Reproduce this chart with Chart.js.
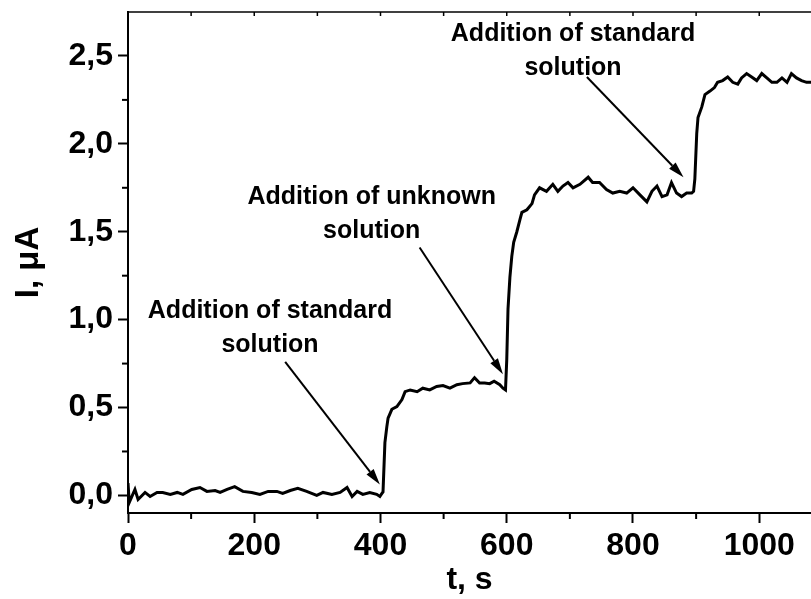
<!DOCTYPE html>
<html>
<head>
<meta charset="utf-8">
<script src="https://cdn.jsdelivr.net/npm/chart.js@4"></script>
<style>
  html, body { margin: 0; padding: 0; background: #fff; }
  #wrap { width: 811px; height: 599px; }
</style>
</head>
<body>
<div id="wrap"><canvas id="amp-chart"></canvas></div>
<script>
"use strict"

// time, s
const timeValues = [
    0, 2, 11, 16, 27, 35, 46, 55, 67, 78, 87, 101, 114, 125, 138, 146, 157, 169, 182, 196,
    209, 222, 236, 245, 257, 269, 283, 299, 309, 323, 336, 347, 355, 363, 372, 383, 394, 399,
    402, 404, 407, 410, 412, 418, 426, 434, 439, 447, 458, 467, 478, 489, 499, 510, 521, 530,
    542, 549, 557, 565, 573, 580, 589, 594, 598,
    600, 602, 605, 608, 611, 616, 621, 624, 632, 640, 644, 652, 663, 673, 681, 689, 697, 705,
    716, 729, 736, 747, 758, 768, 779, 790, 800, 811, 822, 830, 838, 846, 854, 861, 869, 877,
    885, 893, 896,
    898, 901, 903, 909, 914, 922, 929, 934, 942, 950, 958, 966, 972, 980, 988, 996, 1004, 1012,
    1020, 1028, 1036, 1044, 1051, 1059, 1067, 1075, 1083
];

// current, uA
const currentValues = [
    0.07, -0.04, 0.034, -0.023, 0.017, -0.006, 0.017, 0.017, 0.006, 0.017, 0.006, 0.034, 0.045, 0.023, 0.028, 0.017, 0.034, 0.05, 0.023, 0.017,
    0.006, 0.023, 0.023, 0.011, 0.028, 0.04, 0.023, 0.0, 0.017, 0.006, 0.017, 0.045, -0.006, 0.023, 0.006, 0.017, 0.006, -0.006,
    0.01, 0.02, 0.30, 0.39, 0.44, 0.49, 0.505, 0.545, 0.59, 0.60, 0.59, 0.61, 0.60, 0.62, 0.625, 0.61, 0.63, 0.636,
    0.64, 0.67, 0.64, 0.64, 0.636, 0.65, 0.63, 0.61, 0.60,
    0.77, 1.06, 1.24, 1.36, 1.44, 1.50, 1.57, 1.61, 1.625, 1.66, 1.71, 1.75, 1.73, 1.77, 1.73, 1.76, 1.78, 1.75,
    1.77, 1.81, 1.78, 1.78, 1.74, 1.72, 1.73, 1.72, 1.75, 1.71, 1.67, 1.73, 1.76, 1.70, 1.71, 1.78, 1.72, 1.70,
    1.72, 1.72, 1.73,
    1.80, 2.06, 2.15, 2.21, 2.28, 2.30, 2.32, 2.35, 2.36, 2.38, 2.35, 2.34, 2.375, 2.40, 2.38, 2.36, 2.40, 2.375,
    2.35, 2.35, 2.375, 2.35, 2.40, 2.375, 2.36, 2.35, 2.35
];

// annotation texts with anchor (t, I) and arrow from/to in data units
const noteLines = [
    ["Addition of standard", "solution"],
    ["Addition of unknown", "solution"],
    ["Addition of standard", "solution"]
];
const noteTextAt = [[225, 1.05], [386, 1.695], [705, 2.625]];
const noteArrowFrom = [[249, 0.76], [462, 1.41], [727, 2.38]];
const noteArrowTo = [[399, 0.0625], [594, 0.69], [880, 1.81]];

const FONT = "'Liberation Sans', Arial, sans-serif";

// draws the callouts, minor ticks and top frame
const extrasPlugin = {
    id: "extras",
    afterDatasetsDraw(chart) {
        const ctx = chart.ctx;
        const xs = chart.scales.x;
        const ys = chart.scales.y;
        const area = chart.chartArea;

        ctx.save();
        ctx.strokeStyle = "#000";
        ctx.fillStyle = "#000";

        // top frame with small inside ticks
        ctx.lineWidth = 1.5;
        ctx.beginPath();
        ctx.moveTo(area.left, area.top);
        ctx.lineTo(area.right, area.top);
        ctx.stroke();
        for (let t = 100; t < xs.max; t += 100) {
            const px = xs.getPixelForValue(t);
            ctx.beginPath();
            ctx.moveTo(px, area.top);
            ctx.lineTo(px, area.top + 4);
            ctx.stroke();
        }

        // minor ticks on bottom and left axes
        ctx.lineWidth = 2;
        for (let t = 100; t < xs.max; t += 200) {
            const px = xs.getPixelForValue(t);
            ctx.beginPath();
            ctx.moveTo(px, area.bottom);
            ctx.lineTo(px, area.bottom + 6);
            ctx.stroke();
        }
        for (let v = 0.25; v < ys.max; v += 0.5) {
            const py = ys.getPixelForValue(v);
            ctx.beginPath();
            ctx.moveTo(area.left, py);
            ctx.lineTo(area.left - 6, py);
            ctx.stroke();
        }

        // callout texts
        ctx.font = "bold 25px " + FONT;
        ctx.textAlign = "center";
        ctx.textBaseline = "middle";
        for (let i = 0; i < noteLines.length; i++) {
            const cx = xs.getPixelForValue(noteTextAt[i][0]);
            const cy = ys.getPixelForValue(noteTextAt[i][1]);
            noteLines[i].forEach((line, k) => {
                ctx.fillText(line, cx, cy + k * 34);
            });
        }

        // arrows
        for (let i = 0; i < noteArrowFrom.length; i++) {
            const x1 = xs.getPixelForValue(noteArrowFrom[i][0]);
            const y1 = ys.getPixelForValue(noteArrowFrom[i][1]);
            const x2 = xs.getPixelForValue(noteArrowTo[i][0]);
            const y2 = ys.getPixelForValue(noteArrowTo[i][1]);
            const ang = Math.atan2(y2 - y1, x2 - x1);
            const headLen = 16;
            const headW = 4.5;
            const bx = x2 - headLen * Math.cos(ang);
            const by = y2 - headLen * Math.sin(ang);

            ctx.lineWidth = 2;
            ctx.beginPath();
            ctx.moveTo(x1, y1);
            ctx.lineTo(bx, by);
            ctx.stroke();

            ctx.beginPath();
            ctx.moveTo(x2, y2);
            ctx.lineTo(bx + headW * Math.sin(ang), by - headW * Math.cos(ang));
            ctx.lineTo(bx - headW * Math.sin(ang), by + headW * Math.cos(ang));
            ctx.closePath();
            ctx.fill();
        }
        ctx.restore();
    }
};

const points = timeValues.map((t, i) => ({ x: t, y: currentValues[i] }));

new Chart(document.getElementById("amp-chart"), {
    type: "line",
    data: {
        datasets: [{
            data: points,
            borderColor: "#000",
            borderWidth: 3,
            pointRadius: 0,
            tension: 0,
            fill: false
        }]
    },
    options: {
        responsive: true,
        maintainAspectRatio: false,
        animation: false,
        events: [],
        layout: { padding: { top: 12, right: 0, left: 0, bottom: 0 } },
        plugins: {
            legend: { display: false },
            tooltip: { enabled: false }
        },
        scales: {
            x: {
                type: "linear",
                min: 0,
                max: 1082,
                afterFit: (scale) => {
                    scale.height = 86;
                    scale.paddingLeft = 0;
                    scale.paddingRight = 0;
                },
                border: { display: true, color: "#000", width: 2 },
                grid: { drawOnChartArea: false, drawTicks: true, tickLength: 10, color: "#000", tickWidth: 2 },
                ticks: {
                    stepSize: 200,
                    includeBounds: false,
                    color: "#000",
                    padding: 4,
                    maxRotation: 0,
                    font: { family: FONT, size: 32, weight: "bold" },
                    callback: (v) => String(v)
                },
                title: {
                    display: true,
                    text: "t, s",
                    color: "#000",
                    padding: { top: 0, bottom: 0 },
                    font: { family: FONT, size: 32, weight: "bold" }
                }
            },
            y: {
                type: "linear",
                min: -0.1,
                max: 2.75,
                afterFit: (scale) => {
                    scale.width = 128;
                    scale.paddingTop = 0;
                    scale.paddingBottom = 0;
                },
                border: { display: true, color: "#000", width: 2 },
                grid: { drawOnChartArea: false, drawTicks: true, tickLength: 10, color: "#000", tickWidth: 2 },
                ticks: {
                    stepSize: 0.5,
                    includeBounds: false,
                    color: "#000",
                    padding: 5,
                    font: { family: FONT, size: 32, weight: "bold" },
                    callback: (v) => v.toFixed(1).replace(".", ",")
                },
                title: {
                    display: true,
                    text: "I, \u03bcA",
                    color: "#000",
                    padding: { top: 9, bottom: 0 },
                    font: { family: FONT, size: 33, weight: "bold" }
                }
            }
        }
    },
    plugins: [extrasPlugin]
});
</script>
</body>
</html>
